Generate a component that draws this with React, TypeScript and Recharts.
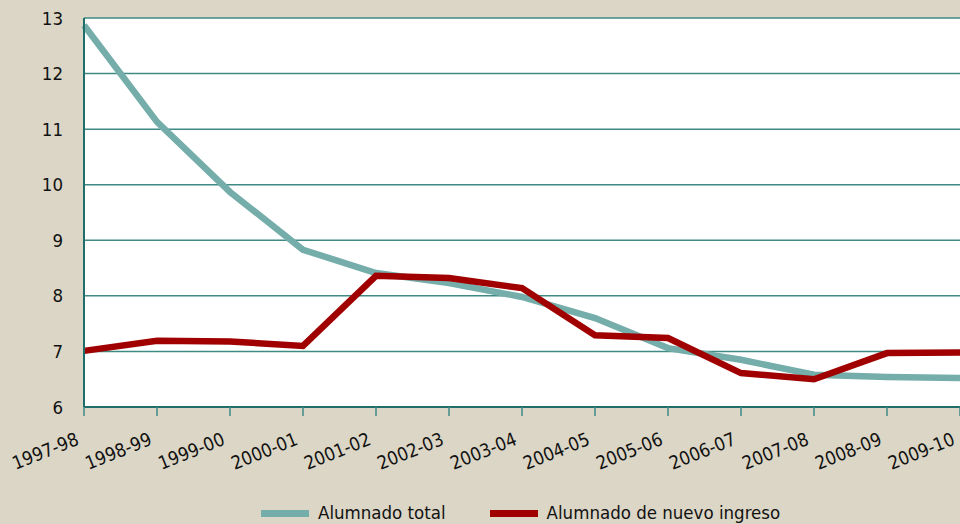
import { LineChart, Line, XAxis, YAxis, CartesianGrid } from 'recharts'

const years = ['1997-98', '1998-99', '1999-00', '2000-01', '2001-02', '2002-03', '2003-04', '2004-05', '2005-06', '2006-07', '2007-08', '2008-09', '2009-10']
const totalValues = [12.87, 11.13, 9.87, 8.83, 8.41, 8.23, 7.98, 7.6, 7.06, 6.85, 6.58, 6.54, 6.52]
const newValues = [7.01, 7.19, 7.18, 7.1, 8.36, 8.32, 8.14, 7.29, 7.24, 6.61, 6.5, 6.97, 6.98]
const yTicks = [6, 7, 8, 9, 10, 11, 12, 13]

const series = [
  { key: 'total', name: 'Alumnado total', color: '#74ADA9' },
  { key: 'nuevo', name: 'Alumnado de nuevo ingreso', color: '#A00000' },
]

const data = years.map((year, i) => ({ year, total: totalValues[i], nuevo: newValues[i] }))

const font = '"DejaVu Sans Condensed", "Liberation Sans", sans-serif'

function YearTick({ x, y, payload }: any) {
  const ax = x - 4
  const ay = y + 26
  return (
    <text x={ax} y={ay} transform={`rotate(-22, ${ax}, ${ay})`} textAnchor="end" fontSize={18.5} fill="#111" fontFamily={font}>
      {payload.value}
    </text>
  )
}

export default function App() {
  return (
    <div style={{ position: 'fixed', top: 0, left: 0, width: 960, height: 524, background: '#DBD6C5', overflow: 'hidden', fontFamily: font }}>
      <LineChart width={960} height={524} data={data} margin={{ top: 18, right: 0, left: 0, bottom: 57 }}>
        <CartesianGrid vertical={false} stroke="#3F8A85" strokeWidth={1.5} fill="#fff" />
        <XAxis
          dataKey="year"
          interval={0}
          height={60}
          padding={{ left: 0, right: 0 }}
          tick={<YearTick />}
          tickSize={9}
          axisLine={{ stroke: '#1F6E69', strokeWidth: 2 }}
          tickLine={{ stroke: '#3F8A85', strokeWidth: 1.5 }}
        />
        <YAxis
          domain={[6, 13]}
          ticks={yTicks}
          width={84}
          tickLine={false}
          axisLine={{ stroke: '#1F6E69', strokeWidth: 2 }}
          tick={{ fontSize: 18.5, fill: '#111', fontFamily: font }}
          tickMargin={15}
        />
        {series.map(s => (
          <Line key={s.key} type="linear" dataKey={s.key} name={s.name} stroke={s.color} strokeWidth={6.5} dot={false} isAnimationActive={false} />
        ))}
      </LineChart>
      <div style={{ position: 'absolute', top: 502, left: 261, display: 'flex', alignItems: 'center', fontSize: 18.5, lineHeight: '22px', color: '#111' }}>
        {series.map(s => (
          <div key={s.key} style={{ display: 'flex', alignItems: 'center', marginRight: 44 }}>
            <div style={{ width: 48, height: 7, background: s.color, marginRight: 9 }} />
            <span>{s.name}</span>
          </div>
        ))}
      </div>
    </div>
  )
}
